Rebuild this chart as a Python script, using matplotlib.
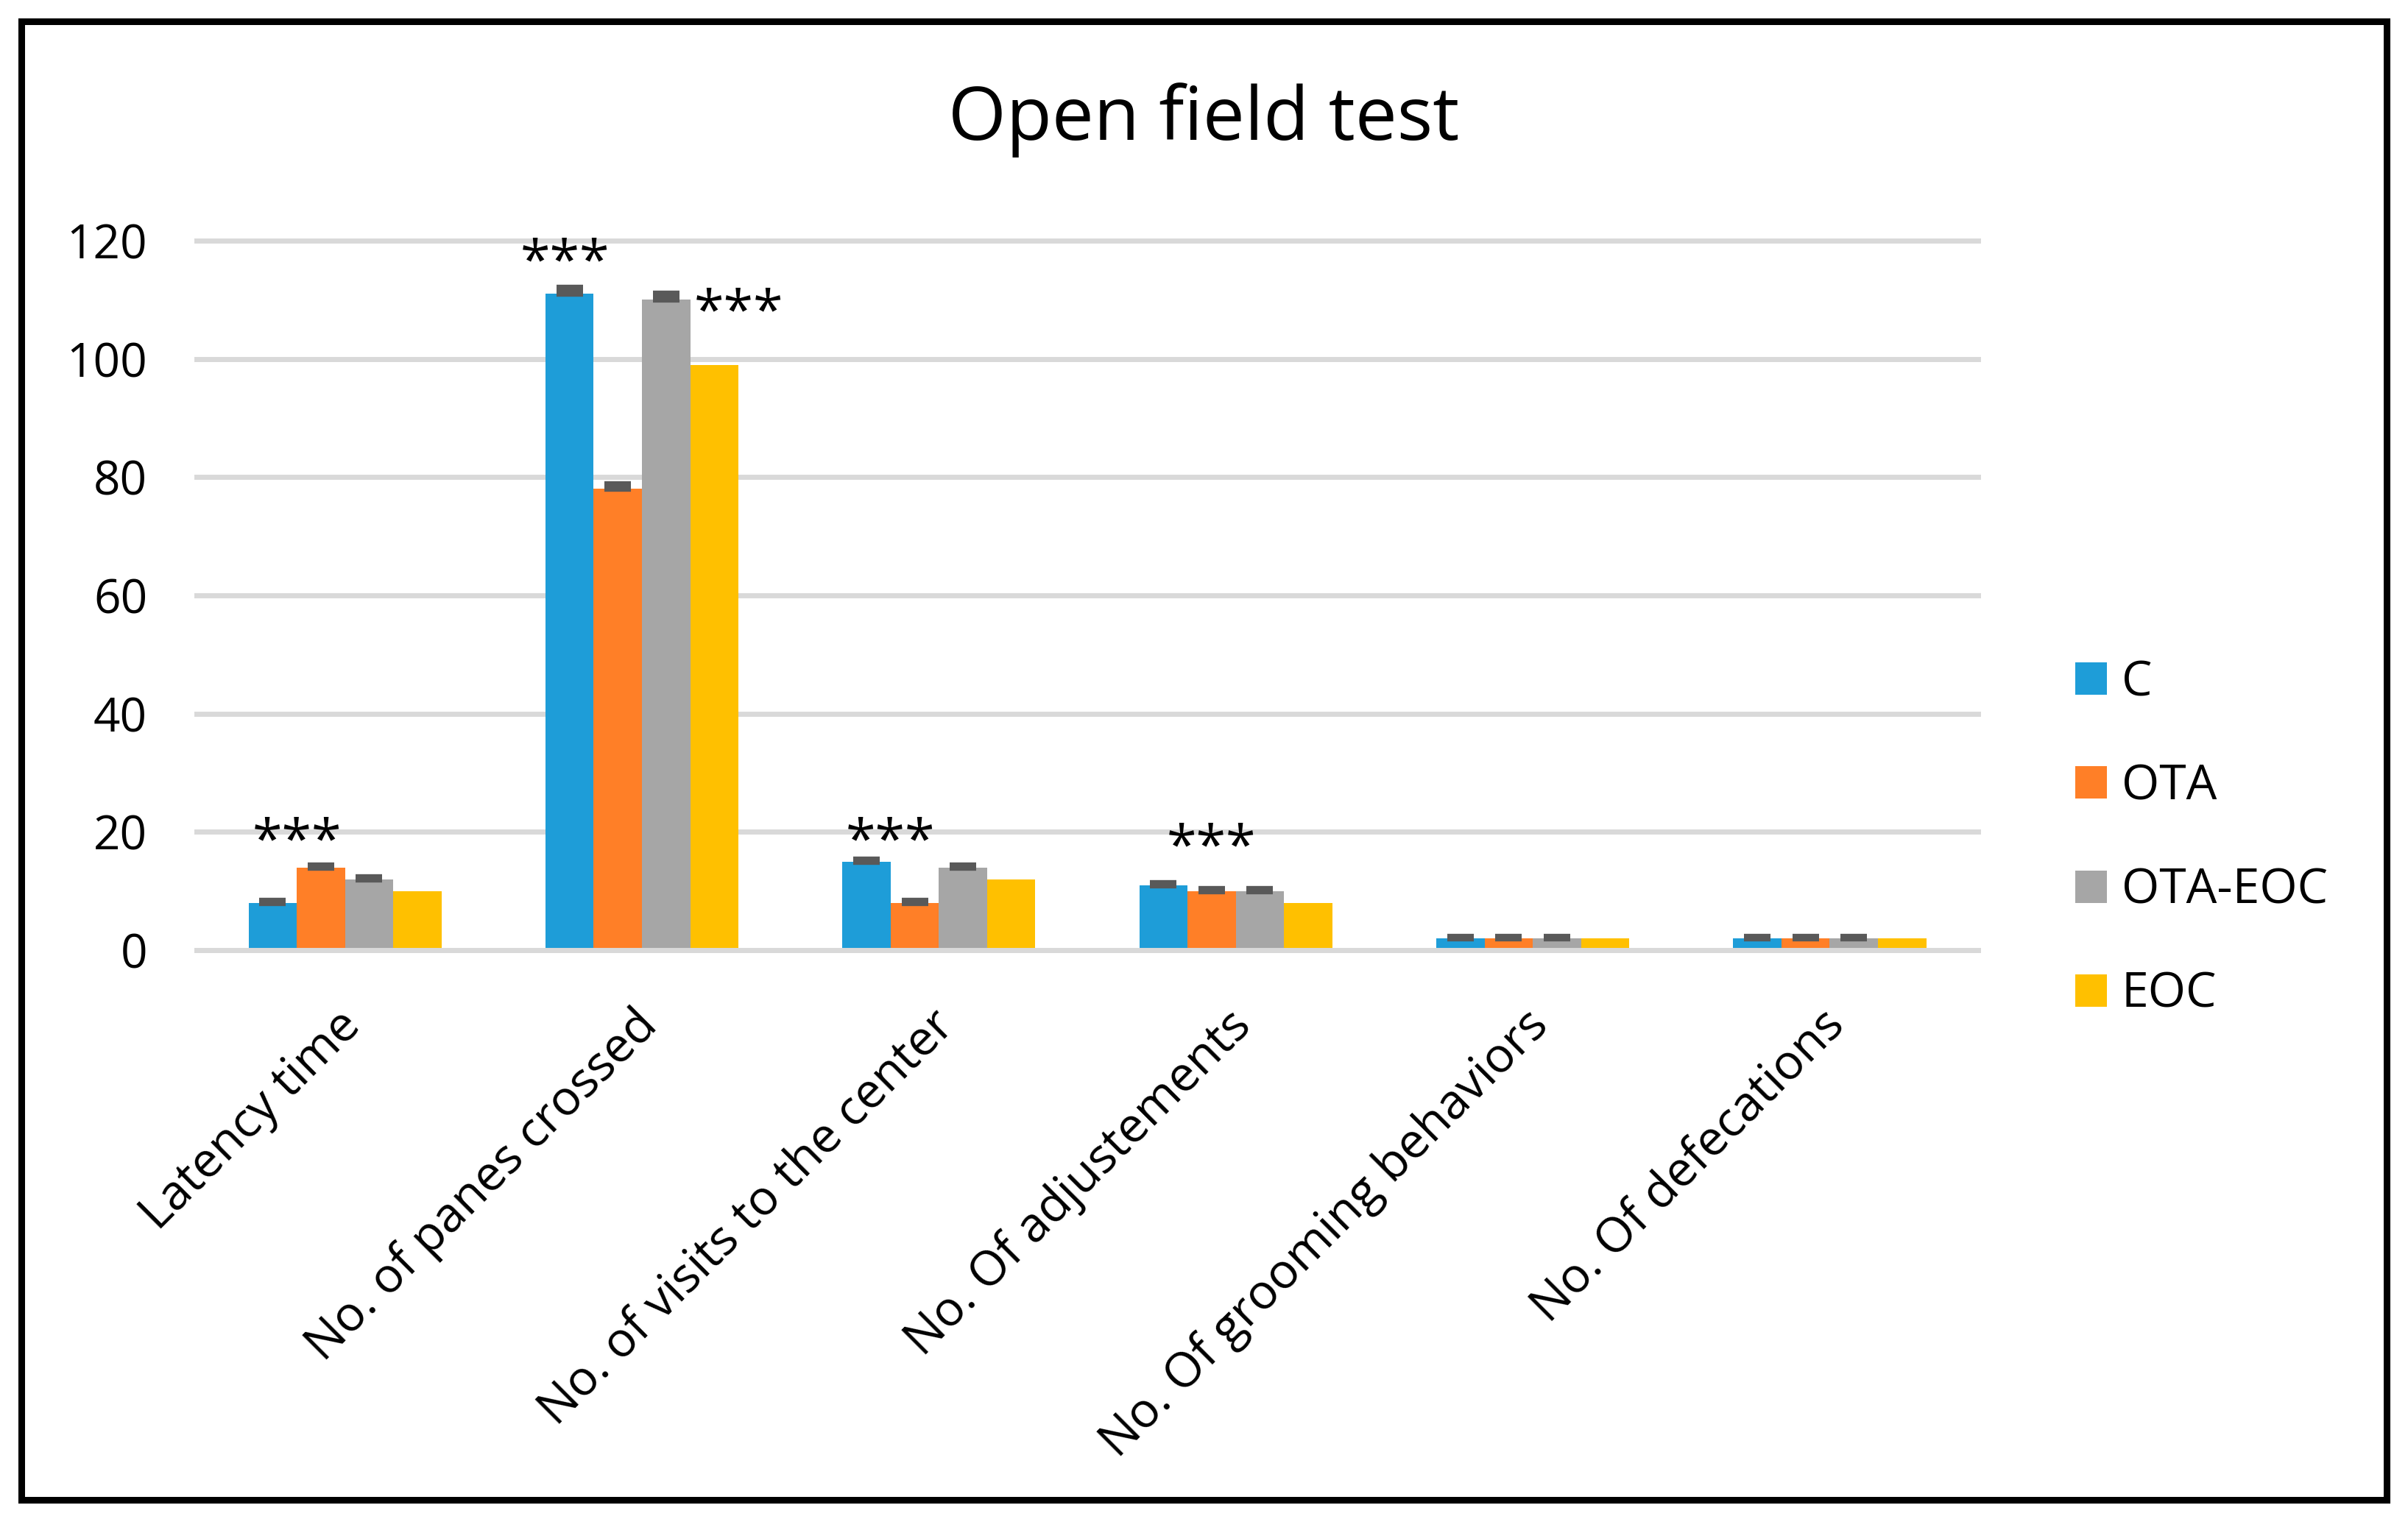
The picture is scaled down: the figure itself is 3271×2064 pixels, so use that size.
import numpy as np
import matplotlib
matplotlib.use("Agg")
import matplotlib.pyplot as plt
import matplotlib.transforms as mtransforms
from matplotlib.patches import Rectangle

# data
categories = ["Latency time", "No. of panes crossed", "No. of visits to the center",
              "No. Of adjustements", "No. Of grooming behaviors", "No. Of defecations"]
groups = ["C", "OTA", "OTA-EOC", "EOC"]
c_vals = [8, 111, 15, 11, 2, 2]
ota_vals = [14, 78, 8, 10, 2, 2]
ota_eoc_vals = [12, 110, 14, 10, 2, 2]
eoc_vals = [10, 99, 12, 8, 2, 2]
c_err = [0.3, 1.0, 0.3, 0.3, 0.2, 0.2]
ota_err = [0.3, 0.8, 0.3, 0.3, 0.2, 0.2]
ota_eoc_err = [0.3, 1.0, 0.3, 0.3, 0.2, 0.2]
# significance marks: (category index, offset in bar widths, y value)
stars = [(0, -1.0, 18.0), (1, -1.6, 116.0), (1, 2.0, 107.5), (2, -1.0, 18.0), (3, -0.5, 17.0)]

colors = ["#1E9DD8", "#FF7F27", "#A6A6A6", "#FFC000"]
plt.rcParams['font.family'] = ['Open Sans', 'DejaVu Sans']

fig = plt.figure(figsize=(32.71, 20.64), dpi=100)
ax = fig.add_axes([0.0816, 0.3745, 0.7399, 0.4671])

x = np.arange(len(categories))
w = 0.1625
series = [c_vals, ota_vals, ota_eoc_vals, eoc_vals]
errs = [c_err, ota_err, ota_eoc_err, None]
for i, (vals, err) in enumerate(zip(series, errs)):
    pos = x + (i - 1.5) * w
    ax.bar(pos, vals, width=w, color=colors[i], label=groups[i], zorder=2)
    if err is not None:
        ax.errorbar(pos, vals, yerr=[np.zeros(len(err)), err], fmt='none',
                    ecolor="#595959", elinewidth=3, capsize=13, capthick=6, zorder=3)

for ci, off, yv in stars:
    ax.text(ci + off * w, yv, "***", ha='center', va='center', fontsize=53)

ax.set_xlim(-0.5, len(categories) - 0.5)
ax.set_ylim(0, 120)
ax.set_yticks(range(0, 121, 20))
ax.yaxis.grid(True, color="#D9D9D9", linewidth=5)
ax.set_axisbelow(True)
for gl in ax.get_ygridlines():
    gl.set_clip_on(False)
ax.axhline(0, color="#D9D9D9", linewidth=5, zorder=4, clip_on=False)
for s in ax.spines.values():
    s.set_visible(False)
ax.tick_params(axis='y', length=0, pad=48, labelsize=46)
ax.tick_params(axis='x', length=0, pad=50, labelsize=47.5)
ax.set_xticks(x)
ax.set_xticklabels(categories, rotation=45, ha='right', va='top', rotation_mode='anchor')
shift = mtransforms.ScaledTranslation(-0.12, 0, fig.dpi_scale_trans)
for lab in ax.get_xticklabels():
    lab.set_transform(lab.get_transform() + shift)

fig.text(0.5, 0.921, "Open field test", ha='center', va='center', fontsize=73)

fig.legend(loc='center left', bbox_to_anchor=(0.8618, 0.4476), frameon=False,
           fontsize=47.5, handlelength=0.65, handleheight=0.65, handletextpad=0.3,
           labelspacing=1.14, borderpad=0, borderaxespad=0)

fig.patches.append(Rectangle((29 / 3271, 26 / 2064), 3213 / 3271, 2009 / 2064,
                             transform=fig.transFigure, fill=False,
                             edgecolor='black', linewidth=6.5))

fig.savefig("out.png", dpi=100, facecolor='white')
